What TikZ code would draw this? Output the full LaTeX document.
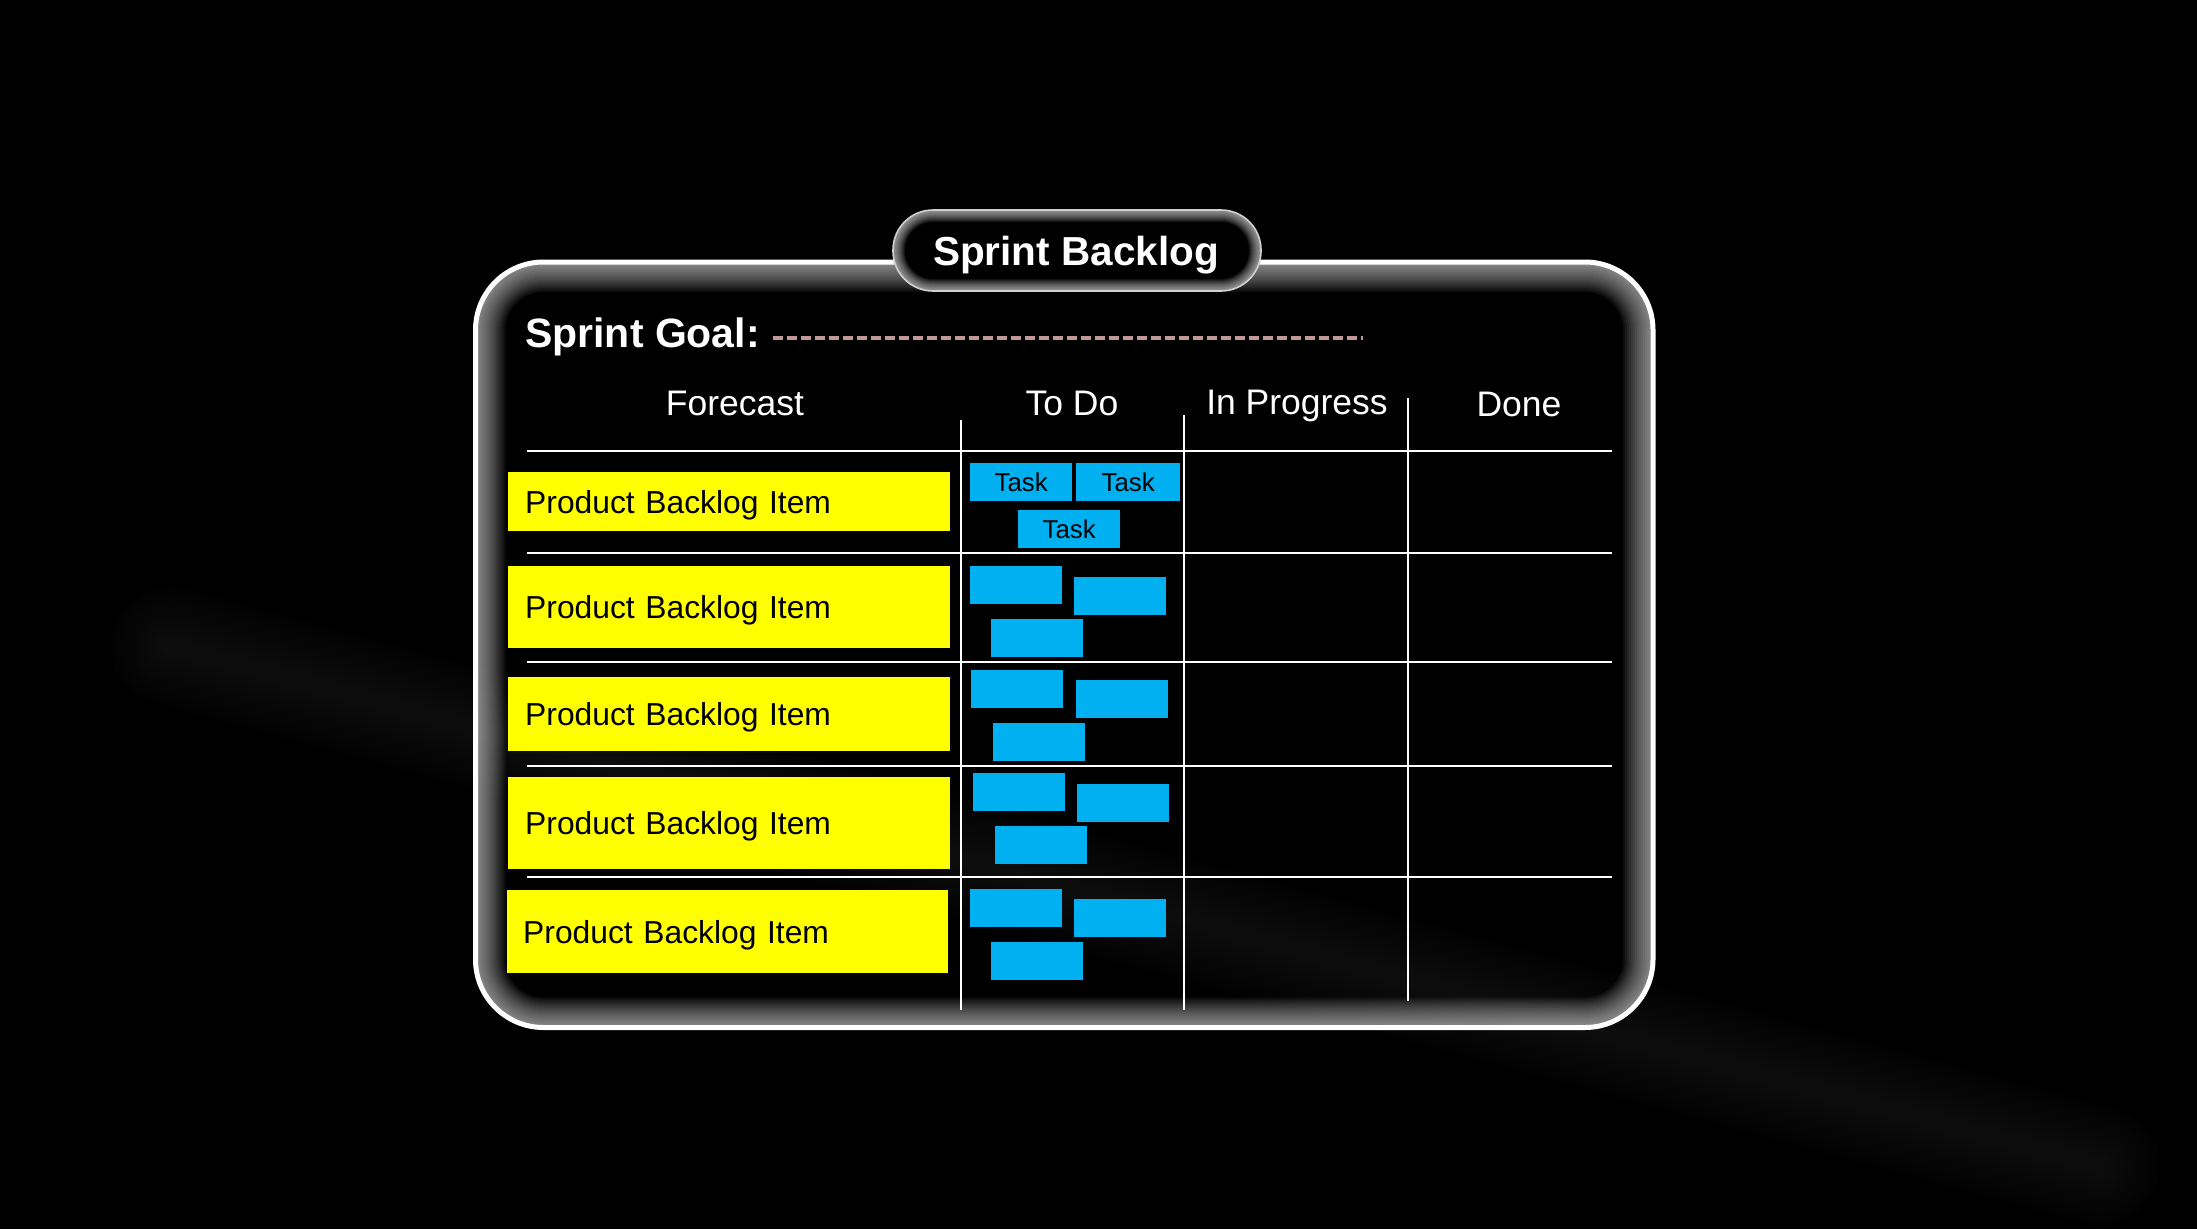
\documentclass[tikz,border=0pt]{standalone}
\usepackage{fontspec}
\setmainfont{Liberation Sans}
\definecolor{pbiyellow}{HTML}{FFFF00}
\definecolor{taskblue}{HTML}{00B0F0}
\definecolor{goaldash}{HTML}{C09898}
\definecolor{pillline}{HTML}{D0D0D0}
\tikzset{
  pbi/.style={fill=pbiyellow, text=black, inner xsep=17pt, inner ysep=0pt,
    text width=408pt, align=left, anchor=north west, minimum width=442pt,
    font=\fontsize{31.8}{36}\selectfont, text height=22.8pt, text depth=0pt},
  task/.style={fill=taskblue, text=black, inner sep=0pt, anchor=north west,
    font=\fontsize{25.8}{30}\selectfont, text height=18.5pt, text depth=0pt},
  head/.style={text=white, font=\fontsize{35.5}{40}\selectfont, anchor=base, inner sep=0pt},
  hgrid/.style={white, line width=2.4pt},
  vgrid/.style={white, line width=2pt},
}
\begin{document}
\begin{tikzpicture}[x=1pt, y=-1pt]
  \useasboundingbox (0,0) rectangle (2197,1229);
  \fill[black] (0,0) rectangle (2197,1229);
  % faint diagonal light streak
  \foreach \w in {10,20,...,120}
    \draw[white, opacity=0.0075, line width=\w pt, line cap=round] (170,646) -- (2100,1166);
  % board with inner glow
  \begin{scope}
    \clip[rounded corners=68pt] (475.5,262) rectangle (1653,1027.5);
    \foreach \w in {4,8,...,60}
      \draw[white, opacity=0.05, line width=\w pt, rounded corners=68pt] (475.5,262) rectangle (1653,1027.5);
  \end{scope}
  \draw[white, line width=5pt, rounded corners=68pt] (475.5,262) rectangle (1653,1027.5);
  % title pill
  \begin{scope}
    \clip[rounded corners=40pt] (893,210) rectangle (1261,291);
    \fill[black] (893,210) rectangle (1261,291);
    \foreach \w in {2,4,...,24}
      \draw[white, opacity=0.07, line width=\w pt, rounded corners=40pt] (893,210) rectangle (1261,291);
  \end{scope}
  \draw[pillline, line width=1.6pt, rounded corners=40pt] (893,210) rectangle (1261,291);
  \node[text=white, font=\bfseries\fontsize{40.5}{46}\selectfont, anchor=base, inner sep=0pt] (title) at (1076,265) {Sprint Backlog};
  % sprint goal
  \node[text=white, font=\bfseries\fontsize{41}{46}\selectfont, anchor=base west, inner sep=0pt] (goal) at (525,347) {Sprint Goal:};
  \coordinate (goalstart) at (773,338);
  \coordinate (goalend) at (1363,338);
  \draw[goaldash, line width=3.5pt, dash pattern=on 9.5pt off 4.5pt] (goalstart) -- (goalend);
  % column headers
  \node[head] (hforecast) at (735,415) {Forecast};
  \node[head] (htodo) at (1072,415) {To Do};
  \node[head] (hprog) at (1297,414) {In Progress};
  \node[head] (hdone) at (1519,416) {Done};
  % grid
  \foreach \y in {451,553,662,766,877}
    \draw[hgrid] (527,\y) -- (1612,\y);
  \draw[vgrid] (961,420) -- (961,1010);
  \draw[vgrid] (1184,415) -- (1184,1010);
  \draw[vgrid] (1408,398) -- (1408,1001);
  % product backlog items
  \node[pbi, minimum height=59pt] (p1) at (508,472) {Product Backlog Item};
  \node[pbi, minimum height=82pt] (p2) at (508,566) {Product Backlog Item};
  \node[pbi, minimum height=74pt] (p3) at (508,677) {Product Backlog Item};
  \node[pbi, minimum height=92pt] (p4) at (508,777) {Product Backlog Item};
  \node[pbi, minimum height=83pt, minimum width=441pt, inner xsep=16pt, text width=409pt] (p5) at (507,890) {Product Backlog Item};
  % tasks, row 1
  \node[task, minimum width=102pt, minimum height=38pt] (t1a) at (970,463) {Task};
  \node[task, minimum width=104pt, minimum height=38pt] (t1b) at (1076,463) {Task};
  \node[task, minimum width=102pt, minimum height=38pt] (t1c) at (1018,510) {Task};
  % tasks, rows 2-5
  \foreach \r/\ax/\ay/\bx/\by/\cx/\cy in {2/970/566/1074/577/991/619, 3/971/670/1076/680/993/723, 4/973/773/1077/784/995/826, 5/970/889/1074/899/991/942}{
    \node[task, minimum width=92pt, minimum height=37.5pt] (t\r a) at (\ax,\ay) {};
    \node[task, minimum width=92pt, minimum height=37.5pt] (t\r b) at (\bx,\by) {};
    \node[task, minimum width=92pt, minimum height=37.5pt] (t\r c) at (\cx,\cy) {};
  }
\end{tikzpicture}
\end{document}
